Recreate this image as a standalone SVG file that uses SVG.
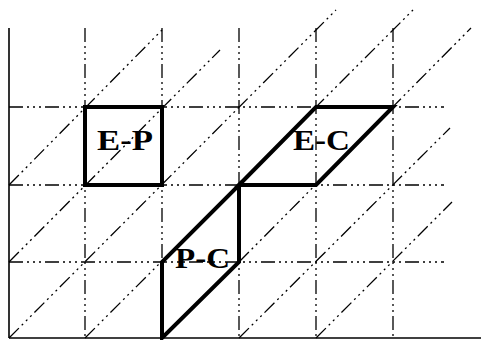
<svg xmlns="http://www.w3.org/2000/svg" width="481" height="340" viewBox="0 0 481 340">
<style>
.axis{stroke:#000;stroke-width:1.6;fill:none}
.grid{stroke:#000;stroke-width:1.3;fill:none;stroke-dasharray:14 4 2 4 2 4 2 4}
.thick{stroke:#000;stroke-width:4;fill:none;stroke-linejoin:miter}
.lbl{font-family:"Liberation Serif","Times New Roman",serif;font-weight:bold;font-size:30px;fill:#000}
</style>
<rect width="481" height="340" fill="#fff"/>
<g id="axes">
<line class="axis" x1="9" y1="28" x2="9" y2="338"/>
<line class="axis" x1="9" y1="338" x2="481" y2="338"/>
</g>
<g id="grid">
<line class="grid" x1="9" y1="107" x2="444" y2="107"/>
<line class="grid" x1="9" y1="185" x2="444" y2="185"/>
<line class="grid" x1="9" y1="262" x2="444" y2="262"/>
<line class="grid" x1="85" y1="28" x2="85" y2="338"/>
<line class="grid" x1="162" y1="28" x2="162" y2="338"/>
<line class="grid" x1="239" y1="28" x2="239" y2="338"/>
<line class="grid" x1="316" y1="28" x2="316" y2="338"/>
<line class="grid" x1="393" y1="28" x2="393" y2="338"/>
</g>
<g id="connectors">
<line class="grid" x1="9" y1="185" x2="162" y2="30"/>
<line class="grid" x1="9" y1="262" x2="220" y2="50"/>
<line class="grid" x1="9" y1="338" x2="336" y2="10"/>
<line class="grid" x1="85" y1="338" x2="413" y2="10"/>
<line class="grid" x1="239" y1="262" x2="471" y2="28"/>
<line class="grid" x1="239" y1="338" x2="450" y2="128"/>
<line class="grid" x1="316" y1="338" x2="452" y2="202"/>
</g>
<g id="E-P">
<rect class="thick" x="85" y="107" width="77" height="78"/>
<text class="lbl" x="97" y="150" textLength="56" lengthAdjust="spacingAndGlyphs">E-P</text>
</g>
<g id="E-C">
<polygon class="thick" points="239,185 316,107 393,107 316,185"/>
<text class="lbl" x="293" y="150" textLength="57" lengthAdjust="spacingAndGlyphs">E-C</text>
</g>
<g id="P-C">
<polygon class="thick" points="162,338 162,262 239,185 239,262"/>
<text class="lbl" x="175" y="268" textLength="55" lengthAdjust="spacingAndGlyphs">P-C</text>
</g>
</svg>
